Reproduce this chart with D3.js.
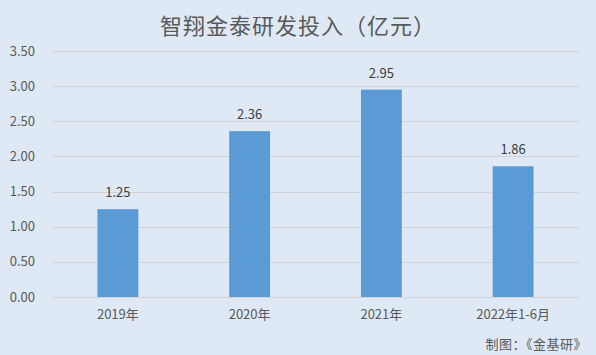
<!DOCTYPE html>
<html>
<head>
<meta charset="utf-8">
<script src="https://cdn.jsdelivr.net/npm/d3@7"></script>
<style>
body { margin: 0; background: #dee9f5; }
svg text { font-family: "Noto Sans CJK SC", "Noto Sans", sans-serif; }
</style>
</head>
<body>
<div id="chart"></div>
<script>
var categories = ["2019年", "2020年", "2021年", "2022年1-6月"];
var values = [1.25, 2.36, 2.95, 1.86];
var yTicks = [0, 0.5, 1, 1.5, 2, 2.5, 3, 3.5];

var W = 596, H = 355;
var margin = {top: 51, right: 17, bottom: 58, left: 52},
  width = W - margin.left - margin.right,
  height = H - margin.top - margin.bottom;

var svg = d3.select("#chart").append("svg")
  .attr("width", W)
  .attr("height", H);

svg.append("rect").attr("width", W).attr("height", H).attr("fill", "#dee9f5");

// title
svg.append("text")
  .attr("x", W / 2)
  .attr("y", 34)
  .attr("text-anchor", "middle")
  .style("font-size", "22px")
  .style("fill", "#595959")
  .style("letter-spacing", "1px")
  .text("智翔金泰研发投入（亿元）");

var g = svg.append("g")
  .attr("transform", "translate(" + margin.left + "," + margin.top + ")");

var x = d3.scaleBand()
  .domain(categories)
  .range([0, width])
  .paddingInner(0.69)
  .paddingOuter(0.345);

var y = d3.scaleLinear()
  .domain([0, 3.5])
  .range([height, 0]);

// gridlines
g.selectAll(".grid")
  .data(yTicks)
  .enter().append("line")
  .attr("x1", 0)
  .attr("x2", width)
  .attr("y1", function(d) { return Math.round(y(d)) + 0.5; })
  .attr("y2", function(d) { return Math.round(y(d)) + 0.5; })
  .attr("stroke", "#d3d3d3")
  .attr("stroke-width", 1);

// y axis labels
g.selectAll(".ylab")
  .data(yTicks)
  .enter().append("text")
  .attr("x", -17)
  .attr("y", function(d) { return y(d); })
  .attr("dy", "0.35em")
  .attr("text-anchor", "end")
  .style("font-size", "13px")
  .style("fill", "#595959")
  .text(function(d) { return d3.format(".2f")(d); });

// bars
g.selectAll(".bar")
  .data(values)
  .enter().append("rect")
  .attr("class", "bar")
  .attr("x", function(d, i) { return x(categories[i]); })
  .attr("width", x.bandwidth())
  .attr("y", function(d) { return y(d); })
  .attr("height", function(d) { return height - y(d); })
  .attr("fill", "#5b9bd5");

// value labels
g.selectAll(".val")
  .data(values)
  .enter().append("text")
  .attr("x", function(d, i) { return x(categories[i]) + x.bandwidth() / 2; })
  .attr("y", function(d) { return y(d) - 12; })
  .attr("text-anchor", "middle")
  .style("font-size", "13px")
  .style("fill", "#404040")
  .text(function(d) { return d3.format(".2f")(d); });

// x axis
var xAxis = g.append("g")
  .attr("transform", "translate(0," + height + ")")
  .call(d3.axisBottom(x).tickSize(0).tickPadding(13));
xAxis.select(".domain").attr("stroke", "#d3d3d3");
xAxis.selectAll("text")
  .style("font-size", "13px")
  .style("fill", "#595959")
  .style("font-family", "'Noto Sans CJK SC', sans-serif");

// source note
svg.append("text")
  .attr("x", 587)
  .attr("y", 349)
  .attr("text-anchor", "end")
  .style("font-size", "13px")
  .style("fill", "#595959")
  .style("letter-spacing", "0.5px")
  .text("制图：《金基研》");
</script>
</body>
</html>
